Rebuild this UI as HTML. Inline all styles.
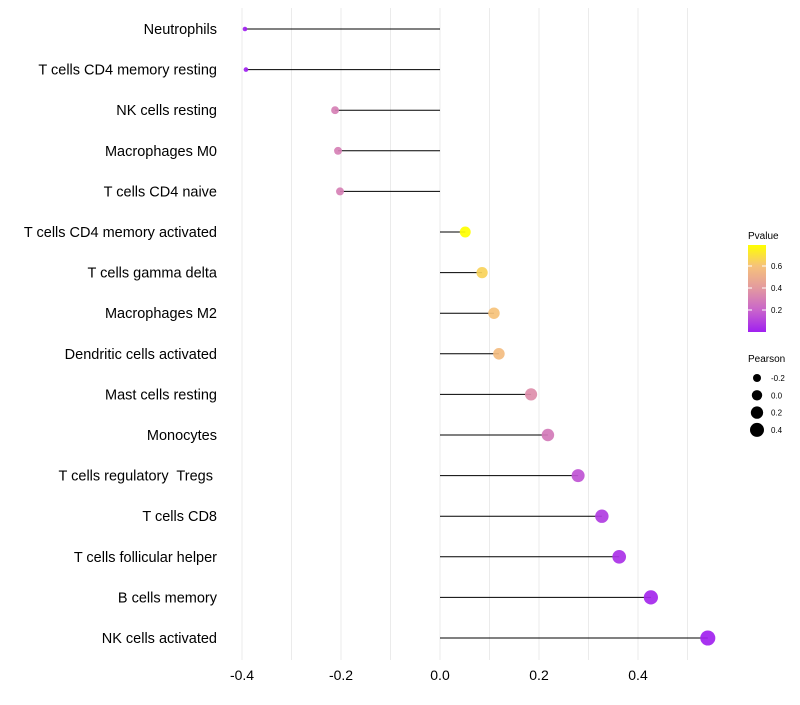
<!DOCTYPE html>
<html><head><meta charset="utf-8"><style>
body{margin:0;background:#fff;font-family:"Liberation Sans",sans-serif}
text{white-space:pre}
</style></head><body>
<svg id="chart" width="800" height="700" xmlns="http://www.w3.org/2000/svg">
<defs><linearGradient id="pg" x1="0" y1="1" x2="0" y2="0">
<stop offset="0" stop-color="#a020f0"/><stop offset="0.253" stop-color="#c965cb"/><stop offset="0.506" stop-color="#e39a9f"/><stop offset="0.76" stop-color="#f6c27a"/><stop offset="1" stop-color="#ffff00"/></linearGradient></defs>
<g id="grid"></g><g id="marks"></g><g id="labels"></g><g id="legend"></g>
</svg>
<script>
const categories=["Neutrophils","T cells CD4 memory resting","NK cells resting","Macrophages M0","T cells CD4 naive","T cells CD4 memory activated","T cells gamma delta","Macrophages M2","Dendritic cells activated","Mast cells resting","Monocytes","T cells regulatory  Tregs ","T cells CD8","T cells follicular helper","B cells memory","NK cells activated"];
const pearson=[-0.394,-0.392,-0.212,-0.206,-0.202,0.051,0.085,0.109,0.119,0.184,0.218,0.279,0.327,0.362,0.426,0.541];
const pvalue=[0.0,0.0,0.3,0.3,0.3,0.79,0.65,0.6,0.57,0.35,0.28,0.15,0.08,0.05,0.02,0.005];
const xTicks=[-0.4,-0.2,0.0,0.2,0.4];
const gridVals=[-0.4,-0.3,-0.2,-0.1,0,0.1,0.2,0.3,0.4,0.5];
const NS="http://www.w3.org/2000/svg";
const x=v=>440+v*495;
const y=i=>29+i*40.6;
const stopP=[0,0.2,0.4,0.6,0.79];
const stopC=[[160,32,240],[201,101,203],[227,154,159],[246,194,122],[255,255,0]];
function col(p){p=Math.max(0,Math.min(0.79,p));let k=0;while(k<3&&p>stopP[k+1])k++;
 const t=(p-stopP[k])/(stopP[k+1]-stopP[k]);const a=stopC[k],b=stopC[k+1];
 return `rgb(${a.map((v,j)=>Math.round(v+(b[j]-v)*t)).join(',')})`;}
const rad=v=>Math.sqrt(Math.max(3,27+55*v));
function mk(tag,at,parent){const e=document.createElementNS(NS,tag);for(const k in at)e.setAttribute(k,at[k]);document.getElementById(parent).appendChild(e);return e;}
gridVals.forEach(v=>{const l=mk('line',{x1:x(v),x2:x(v),y1:8,y2:660,stroke:'#ebebeb','stroke-width':1},'grid');

});
xTicks.forEach(v=>{const t=mk('text',{x:x(v),y:680,'font-size':14,'text-anchor':'middle',fill:'#000'},'labels');t.textContent=v.toFixed(1);

});
categories.forEach((c,i)=>{
 const t=mk('text',{x:217,y:y(i)+5,'font-size':14.5,'text-anchor':'end',fill:'#000'},'labels');t.textContent=c;
 
 
 const l=mk('line',{x1:x(0),x2:x(pearson[i]),y1:y(i),y2:y(i),stroke:'#000','stroke-width':1},'marks');
 
 
 const p=mk('circle',{cx:x(pearson[i]),cy:y(i),r:rad(pearson[i]),fill:col(pvalue[i]),'fill-opacity':0.92},'marks');
 
 
});
const lg='legend';
let t=mk('text',{x:748,y:239,'font-size':10},lg);t.textContent='Pvalue';


const bar=mk('rect',{x:748,y:245,width:18,height:87,fill:'url(#pg)'},lg);


[0.2,0.4,0.6].forEach(v=>{const yy=332-v*110;
 mk('line',{x1:748,x2:752,y1:yy,y2:yy,stroke:'#fff'},lg);mk('line',{x1:762,x2:766,y1:yy,y2:yy,stroke:'#fff'},lg);
 const tt=mk('text',{x:771,y:yy+3,'font-size':8},lg);tt.textContent=v.toFixed(1);
 
 });
t=mk('text',{x:748,y:362,'font-size':10},lg);t.textContent='Pearson';


[-0.2,0.0,0.2,0.4].forEach((v,i)=>{const yy=378+i*17.3;
 const c=mk('circle',{cx:757,cy:yy,r:rad(v),fill:'#000'},lg);
 
 
 const tt=mk('text',{x:771,y:yy+3,'font-size':8},lg);tt.textContent=v.toFixed(1);
 
 });
</script>
</body></html>
